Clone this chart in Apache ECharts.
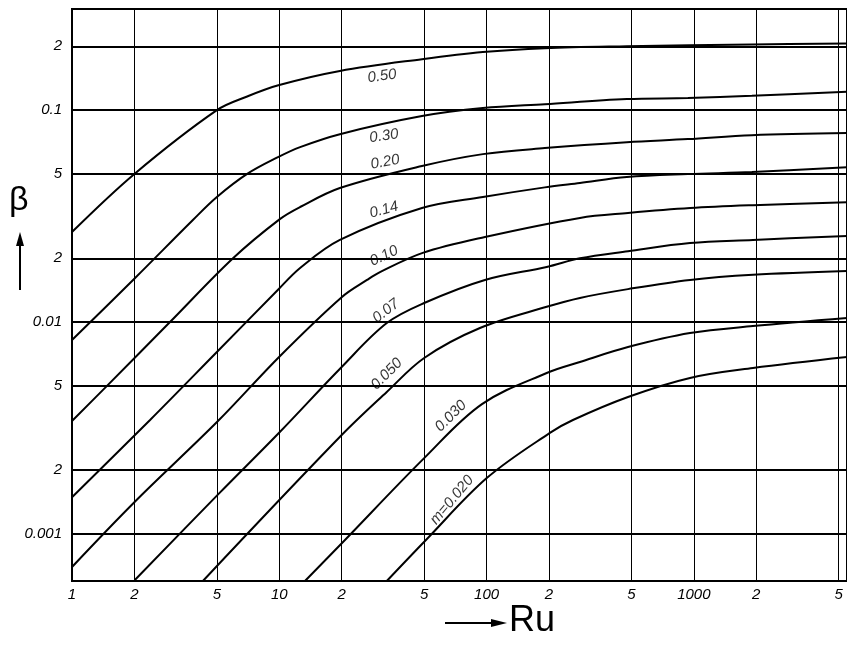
<!DOCTYPE html>
<html>
<head>
<meta charset="utf-8">
<script src="https://cdn.jsdelivr.net/npm/echarts@6/dist/echarts.min.js"></script>
<style>
html, body { margin: 0; padding: 0; background: #fff; }
#chart_id { width: 847px; height: 647px; }
</style>
</head>
<body>
<div id="chart_id"></div>
<script>
// axis ticks (Ru and beta are both logarithmic)
var ruTicks = [1, 2, 5, 10, 20, 50, 100, 200, 500, 1000, 2000, 5000];
var ruLabels = ['1', '2', '5', '10', '2', '5', '100', '2', '5', '1000', '2', '5'];
var betaTicks = [0.2, 0.1, 0.05, 0.02, 0.01, 0.005, 0.002, 0.001];
var betaLabels = ['2', '0.1', '5', '2', '0.01', '5', '2', '0.001'];
var ruRange = [1, 5480];
var betaRange = [0.0006, 0.3];

// curves, [Ru, beta]
var m050 = [[1, 0.0266], [2.0, 0.05], [5, 0.1], [7.0, 0.116], [9.9, 0.131], [19.6, 0.153], [48.8, 0.174], [96, 0.188], [191, 0.196], [475, 0.200], [1905, 0.204], [5477, 0.206]];
var m030 = [[1, 0.00823], [2.01, 0.0161], [3.83, 0.0303], [5.0, 0.0389], [7.0, 0.05], [9.86, 0.06], [12.6, 0.0669], [19.6, 0.077], [48.8, 0.0937], [96, 0.1022], [191, 0.1067], [475, 0.1127], [936, 0.114], [1905, 0.1168], [5477, 0.122]];
var m020 = [[1, 0.00341], [1.475, 0.005], [2.97, 0.01], [5.98, 0.02], [10.06, 0.0306], [12.6, 0.0349], [19.6, 0.0429], [48.8, 0.0545], [96, 0.062], [191, 0.0662], [475, 0.0706], [936, 0.073], [1905, 0.0762], [5477, 0.0779]];
var m014 = [[1, 0.00149], [2.38, 0.00345], [5.0, 0.00722], [9.86, 0.0142], [12.6, 0.018], [19.6, 0.0244], [48.8, 0.0345], [96, 0.0389], [191, 0.0432], [282, 0.0453], [475, 0.0483], [936, 0.0499], [1905, 0.051], [5477, 0.0538]];
var m010 = [[1, 0.000699], [2.01, 0.00142], [5.06, 0.00341], [10.06, 0.0069], [20, 0.0131], [26.5, 0.0158], [30.6, 0.0172], [49.2, 0.0212], [98.2, 0.0252], [282, 0.031], [481, 0.0327], [958, 0.0345], [1928, 0.0356], [5477, 0.0368]];
var m007 = [[2.01, 0.000607], [5.11, 0.00155], [10.06, 0.00303], [20, 0.00614], [33, 0.00989], [50, 0.0123], [98.2, 0.0158], [195, 0.0182], [282, 0.0200], [481, 0.0216], [958, 0.0236], [1928, 0.0244], [5477, 0.0255]];
var m0050 = [[4.28, 0.0006], [20, 0.00293], [33, 0.00468], [50, 0.00677], [92.9, 0.00937], [195, 0.0118], [282, 0.013], [481, 0.0143], [958, 0.0158], [1928, 0.0167], [5477, 0.0174]];
var m0030 = [[13.3, 0.0006], [20.3, 0.000917], [50, 0.00228], [95, 0.0041], [195, 0.00575], [282, 0.00648], [481, 0.00762], [958, 0.00887], [1928, 0.00957], [5477, 0.01045]];
var m0020 = [[33, 0.0006], [51, 0.000937], [100.5, 0.00184], [202, 0.0030], [261, 0.00345], [481, 0.00443], [958, 0.00545], [1928, 0.00607], [5477, 0.00684]];

var curveData = [m050, m030, m020, m014, m010, m007, m0050, m0030, m0020];
var curveNames = ['0.50', '0.30', '0.20', '0.14', '0.10', '0.07', '0.050', '0.030', 'm=0.020'];
// where each curve label sits: [Ru, beta, rotation]
var labelAt = [[31.3, 0.1446, 8], [32, 0.0754, 8], [32.4, 0.0569, 10], [32, 0.0338, 15], [32, 0.0205, 25], [32.7, 0.01127, 38], [33, 0.00569, 45], [67.3, 0.0036, 45], [68.1, 0.001446, 50]];

function lg(v) { return Math.log10(v); }
function pickLabel(ticks, labels, v) {
  for (var i = 0; i < ticks.length; i++) {
    if (Math.abs(lg(ticks[i]) - v) < 1e-6) return labels[i];
  }
  return '';
}

var labelFont = {
  color: '#000',
  fontFamily: 'Liberation Sans',
  fontStyle: 'italic',
  fontSize: 15
};

var series = curveData.map(function (pts, i) {
  return {
    name: curveNames[i],
    type: 'line',
    data: pts.map(function (p) { return [lg(p[0]), lg(p[1])]; }),
    smooth: 0.35,
    symbol: 'none',
    silent: true,
    lineStyle: { color: '#000', width: 2 },
    z: 3
  };
});

series.push({
  type: 'scatter',
  symbolSize: 0,
  silent: true,
  z: 5,
  itemStyle: { color: '#000' },
  data: labelAt.map(function (l, i) {
    return {
      value: [lg(l[0]), lg(l[1])],
      name: curveNames[i],
      label: { rotate: l[2] }
    };
  }),
  label: Object.assign({
    show: true,
    position: 'inside',
    textBorderWidth: 0,
    formatter: '{b}'
  }, labelFont)
});

var option = {
  animation: false,
  backgroundColor: '#fff',
  grid: {
    left: 72,
    right: 0,
    top: 9,
    bottom: 66,
    show: true,
    borderColor: '#000',
    borderWidth: 2
  },
  xAxis: {
    type: 'value',
    min: lg(ruRange[0]),
    max: lg(ruRange[1]),
    axisLine: { show: false },
    axisTick: { show: false, customValues: ruTicks.map(lg) },
    axisLabel: Object.assign({
      customValues: ruTicks.map(lg),
      margin: 6,
      formatter: function (v) { return pickLabel(ruTicks, ruLabels, v); }
    }, labelFont),
    splitLine: { show: true, lineStyle: { color: '#000', width: 1 } }
  },
  yAxis: {
    type: 'value',
    min: lg(betaRange[0]),
    max: lg(betaRange[1]),
    axisLine: { show: false },
    axisTick: { show: false, customValues: betaTicks.map(lg) },
    axisLabel: Object.assign({
      customValues: betaTicks.map(lg),
      margin: 10,
      formatter: function (v) { return pickLabel(betaTicks, betaLabels, v); }
    }, labelFont),
    splitLine: { show: true, lineStyle: { color: '#000', width: 2 } }
  },
  graphic: [
    { type: 'text', left: 9, top: 184, style: { text: 'β', font: '34px "Liberation Sans"', fill: '#000' } },
    { type: 'line', shape: { x1: 20, y1: 290, x2: 20, y2: 242 }, style: { stroke: '#000', lineWidth: 2 } },
    { type: 'polygon', shape: { points: [[16, 246], [24, 246], [20, 232]] }, style: { fill: '#000' } },
    { type: 'line', shape: { x1: 445, y1: 623, x2: 495, y2: 623 }, style: { stroke: '#000', lineWidth: 2 } },
    { type: 'polygon', shape: { points: [[491, 619], [491, 627], [507, 623]] }, style: { fill: '#000' } },
    { type: 'text', left: 509, top: 603, style: { text: 'Ru', font: '36px "Liberation Sans"', fill: '#000' } }
  ],
  series: series
};

var chart = echarts.init(document.getElementById('chart_id'));
chart.setOption(option);
</script>
</body>
</html>
